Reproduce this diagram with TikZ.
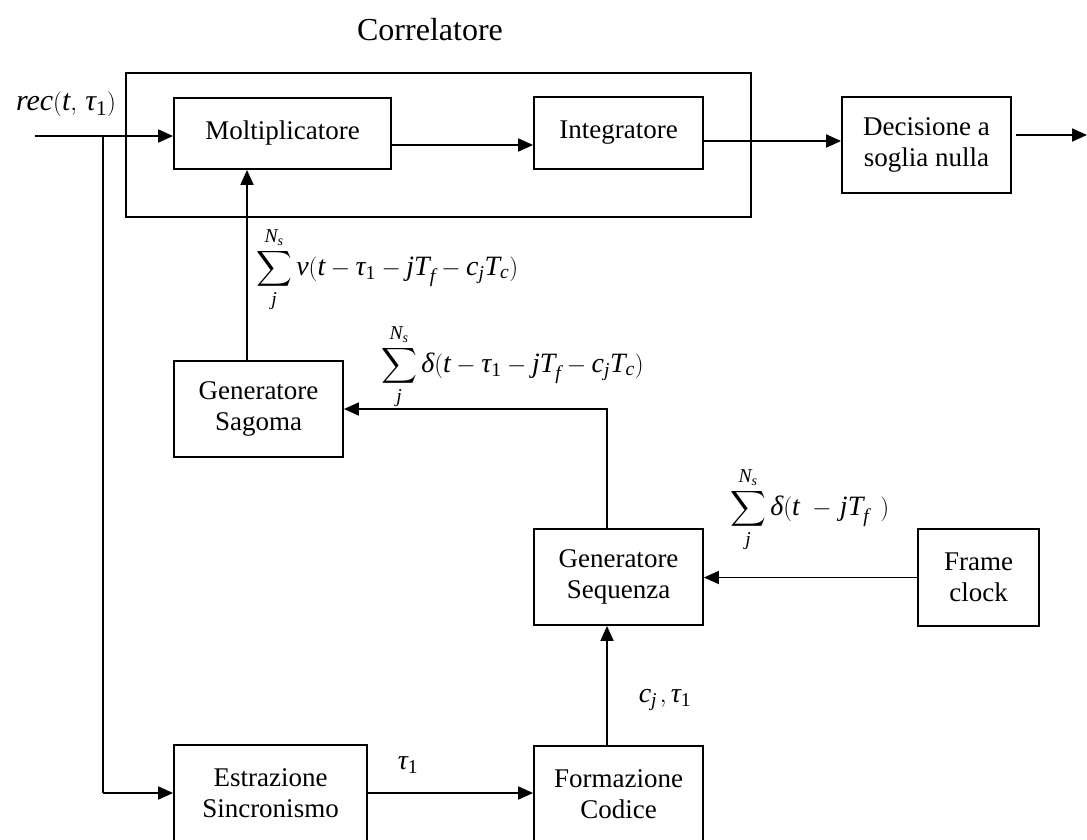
\documentclass[tikz,border=0pt]{standalone}
\usepackage{amsmath}
\usepackage{fontspec}
\setmainfont{Liberation Serif}
\usetikzlibrary{arrows.meta,calc}
\newcommand\mI[1]{\textit{#1}}
\newcommand\mR[1]{\textrm{#1}}
\begin{document}
\begin{tikzpicture}[x=1pt,y=-1pt,
  every node/.style={font=\fontsize{27}{31}\selectfont},
  blk/.style={draw,line width=1.8pt,align=center,inner sep=0pt},
  conn/.style={line width=1.8pt},
  arr/.style={conn,-{Triangle[length=15pt,width=13pt]}},
  lbl/.style={inner sep=0pt},
  mlbl/.style={inner sep=0pt,font=\fontsize{28}{32}\selectfont}]
\useasboundingbox (0,0) rectangle (1087,839);
% outer correlator box
\node[blk,minimum width=625pt,minimum height=144pt] (corr) at (438.5,145) {};
\node[lbl,font=\fontsize{32}{36}\selectfont] (corrlbl) at (430,30) {Correlatore};
% blocks
\node[blk,minimum width=217pt,minimum height=71pt] (molt) at (282.5,133.5) {Moltiplicatore};
\node[blk,minimum width=169pt,minimum height=72pt] (integ) at (618.5,133) {Integratore};
\node[blk,minimum width=169pt,minimum height=96pt] (dec) at (926.5,145) {Decisione a\\soglia nulla};
\node[blk,minimum width=169pt,minimum height=96pt] (sag) at (258.5,409) {Generatore\\Sagoma};
\node[blk,minimum width=169pt,minimum height=96pt] (seq) at (618.5,577) {Generatore\\Sequenza};
\node[blk,minimum width=121pt,minimum height=97pt] (frame) at (978.5,577.5) {Frame\\clock};
\node[blk,minimum width=193pt,minimum height=96pt] (estr) at (270.5,793) {Estrazione\\Sincronismo};
\node[blk,minimum width=169pt,minimum height=96pt] (form) at (618.5,794) {Formazione\\Codice};
% free coordinates
\coordinate (in) at (35,136);
\coordinate (jn) at (103,136);
\coordinate (out) at (1087,135);
% connectors
\draw[arr] (in) -- (in -| molt.west);
\draw[conn] (jn) -- (jn |- estr.west);
\draw[arr] (jn |- estr.west) -- (estr.west);
\draw[arr] (molt.east |- 0,145) -- (integ.west |- 0,145);
\draw[arr] (integ.east |- 0,141) -- (dec.west |- 0,141);
\draw[arr] ([xshift=4pt]dec.east |- out) -- (out);
\draw[arr] (247,0 |- sag.north) -- (247,0 |- molt.south);
\draw[arr] (607,0 |- seq.north) |- (sag.east);
\draw[arr] (frame.west) -- (frame.west -| seq.east);
\draw[arr] (607,0 |- form.north) -- (607,0 |- seq.south);
\draw[arr] (estr.east) -- (estr.east -| form.west);
% labels
\node[lbl,font=\fontsize{30}{34}\selectfont] (reclbl) at (66,104) {$\mI{rec}(\mI{t},\,\mI{τ}_{\mR{1}})$};
\node[mlbl,anchor=west] (f1) at (256,270) {$\displaystyle\sum_{\mI{j}}^{\mI{N}_{\mI{s}}} \mI{v}(\mI{t}-\mI{τ}_{\mR{1}}-\mI{jT}_{\mI{f}}-\mI{c}_{\mI{j}}\mI{T}_{\mI{c}})$};
\node[mlbl,anchor=west] (f2) at (381,367) {$\displaystyle\sum_{\mI{j}}^{\mI{N}_{\mI{s}}} \mI{δ}(\mI{t}-\mI{τ}_{\mR{1}}-\mI{jT}_{\mI{f}}-\mI{c}_{\mI{j}}\mI{T}_{\mI{c}})$};
\node[mlbl,anchor=west] (f3) at (730,510) {$\displaystyle\sum_{\mI{j}}^{\mI{N}_{\mI{s}}} \mI{δ}(\mI{t}\mkern5mu-\mkern2mu\mI{jT}_{\mI{f}}\mkern8mu)$};
\node[mlbl] (taulbl) at (408,765) {$\mI{τ}_{\mR{1}}$};
\node[mlbl] (cjlbl) at (665,700) {$\mI{c}_{\mI{j}}\mkern2mu,\mI{τ}_{\mR{1}}$};
\end{tikzpicture}
\end{document}
